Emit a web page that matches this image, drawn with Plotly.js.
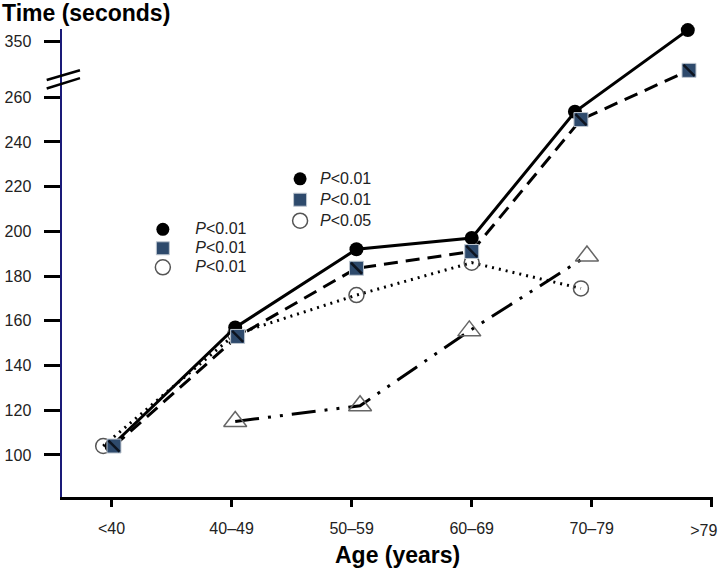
<!DOCTYPE html>
<html>
<head>
<meta charset="utf-8">
<script src="https://cdn.plot.ly/plotly-3.0.1.min.js"></script>
<style>
  html, body { margin: 0; padding: 0; background: #fff; }
  #chart { width: 718px; height: 572px; }
</style>
</head>
<body>
<div id="chart"></div>
<script>
// ---- data ----
const categories = ["<40", "40–49", "50–59", "60–69", "70–79", ">79"];
const categoryPos = [0, 1, 2, 3, 4, 5];
const yTickValues = [100, 120, 140, 160, 180, 200, 220, 240, 260, 350];

// solid line, filled circles
const solidX = [0.0, 1.03, 2.04, 3.0, 3.86, 4.8];
const solidY = [104, 157, 192, 197, 253.5, 355];
// dashed line, hatched squares
const dashedX = [0.02, 1.05, 2.04, 3.0, 3.91, 4.81];
const dashedY = [104, 153, 183.5, 191, 250, 337];
// dotted line, open circles
const dottedX = [-0.07, 1.03, 2.04, 3.0, 3.91];
const dottedY = [104, 154, 171.5, 186, 174.5];
// dash-dot line, open triangles
const dashDotX = [1.03, 2.07, 2.98, 3.96];
const dashDotY = [115, 122, 155.5, 189];

const legend1Labels = ["<i>P</i>&lt;0.01", "<i>P</i>&lt;0.01", "<i>P</i>&lt;0.01"];
const legend2Labels = ["<i>P</i>&lt;0.01", "<i>P</i>&lt;0.01", "<i>P</i>&lt;0.05"];

// ---- broken y axis: values above the break are shifted down ----
const BREAK_SHIFT = 65;   // 350 is drawn where 285 would be
function toAxis(v) { return v > 300 ? v - BREAK_SHIFT : v; }

const FONT = "Liberation Sans, Arial, sans-serif";
const X_RANGE = [-0.413, 5.01];
const lastIdx = categories.length - 1;

const squareFill = "#2e4a6c";
const circleMarker = { symbol: "circle", size: 14, color: "#000" };
const squareMarker = { symbol: "square", size: 14, color: squareFill, line: { color: "#bfc7d0", width: 1 } };
const openCircleMarker = { symbol: "circle-open", size: 15, color: "#555", line: { color: "#555", width: 1.5 } };
const triMarker = { symbol: "triangle-up-open", size: 20, color: "#666", line: { color: "#666", width: 1.5 } };

const traces = [
  {
    x: dashDotX, y: dashDotY.map(toAxis), mode: "lines+markers", showlegend: false,
    line: { color: "#000", width: 3, dash: "24px,9px,3px,9px,3px,9px" },
    marker: triMarker, cliponaxis: false
  },
  {
    x: dottedX, y: dottedY.map(toAxis), mode: "lines+markers", showlegend: false,
    line: { color: "#000", width: 3, dash: "2px,5px" },
    marker: openCircleMarker, cliponaxis: false
  },
  {
    x: solidX, y: solidY.map(toAxis), mode: "lines+markers", showlegend: false,
    line: { color: "#000", width: 3 },
    marker: circleMarker, cliponaxis: false
  },
  {
    x: dashedX, y: dashedY.map(toAxis), mode: "lines+markers", showlegend: false,
    line: { color: "#000", width: 3, dash: "14px,8px" },
    marker: squareMarker, cliponaxis: false
  },
  {
    x: dashedX, y: dashedY.map(toAxis), mode: "markers", showlegend: false, hoverinfo: "skip",
    marker: { symbol: "line-nw", size: 11, line: { color: "#0d1420", width: 2.5 } },
    cliponaxis: false
  }
];

// legend entries (markers only); they live on the overlay axis x2 so that axis is drawn
const legendMarkers = [
  { symbol: "circle", size: 13, color: "#000" },
  { symbol: "square", size: 13, color: squareFill, line: { color: "#bfc7d0", width: 1 } },
  { symbol: "circle-open", size: 15, color: "#555", line: { color: "#555", width: 1.5 } }
];
const bigText = s => '<span style="font-size:16px">' + s + '</span>';
legend1Labels.forEach((name, i) => traces.push({
  x: [null], y: [null], xaxis: "x2", mode: "markers", name: bigText(name), legend: "legend",
  marker: legendMarkers[i], showlegend: true
}));
legend2Labels.forEach((name, i) => traces.push({
  x: [null], y: [null], xaxis: "x2", mode: "markers", name: bigText(name), legend: "legend2",
  marker: legendMarkers[i], showlegend: true
}));

const legendCommon = {
  bgcolor: "rgba(0,0,0,0)", borderwidth: 0,
  xanchor: "left", yanchor: "top", traceorder: "normal"
};

const tickFont = { family: FONT, size: 16, color: "#222" };

const layout = {
  width: 718, height: 572,
  margin: { l: 62, r: 5, t: 29, b: 75 },
  paper_bgcolor: "#fff", plot_bgcolor: "#fff",
  font: { family: FONT, size: 16, color: "#222" },
  showlegend: true,
  legend: Object.assign({}, legendCommon, {
    x: 0.105, y: 0.603, itemwidth: 55,
    font: { family: FONT, size: 12, color: "#222" }
  }),
  legend2: Object.assign({}, legendCommon, {
    x: 0.335, y: 0.713, itemwidth: 30,
    font: { family: FONT, size: 13.8, color: "#222" }
  }),
  xaxis: {
    range: X_RANGE,
    tickmode: "array", tickvals: categoryPos,
    ticktext: categories.map((c, i) => i === lastIdx ? "" : c),
    showline: true, linecolor: "#000", linewidth: 3,
    ticks: "outside", ticklen: 7, tickwidth: 3, tickcolor: "#000",
    ticklabelstandoff: 8,
    showgrid: false, zeroline: false,
    tickfont: tickFont
  },
  // overlay axis carrying only the last label, nudged left so it stays inside the figure
  xaxis2: {
    overlaying: "x", side: "bottom", range: X_RANGE,
    tickmode: "array", tickvals: [categoryPos[lastIdx]], ticktext: [categories[lastIdx]],
    ticks: "", showline: false, showgrid: false, zeroline: false,
    ticklabelstandoff: 22, ticklabelshift: -8, ticklabeloverflow: "allow",
    tickfont: tickFont
  },
  yaxis: {
    range: [81.2, 290.5],
    tickmode: "array", tickvals: yTickValues.map(toAxis), ticktext: yTickValues.map(String),
    showline: true, linecolor: "#1a1a78", linewidth: 2.5,
    ticks: "outside", ticklen: 16, tickwidth: 3, tickcolor: "#000",
    ticklabelstandoff: 9,
    showgrid: false, zeroline: false,
    tickfont: tickFont
  },
  annotations: [
    {
      text: "<b>Time (seconds)</b>", xref: "paper", yref: "paper",
      x: -0.0952, y: 1.034, xanchor: "left", yanchor: "middle", showarrow: false,
      font: { family: FONT, size: 23, color: "#000" }
    },
    {
      text: "<b>Age (years)</b>", xref: "paper", yref: "paper",
      x: 0.516, y: -0.124, xanchor: "center", yanchor: "middle", showarrow: false,
      font: { family: FONT, size: 23, color: "#000" }
    }
  ],
  shapes: [
    { type: "line", xref: "paper", yref: "paper", x0: -0.0235, y0: 0.891, x1: 0.0276, y1: 0.912,
      line: { color: "#000", width: 2.5 } },
    { type: "line", xref: "paper", yref: "paper", x0: -0.0235, y0: 0.873, x1: 0.0276, y1: 0.895,
      line: { color: "#000", width: 2.5 } }
  ]
};

Plotly.newPlot("chart", traces, layout, { displayModeBar: false, staticPlot: true });
</script>
</body>
</html>
